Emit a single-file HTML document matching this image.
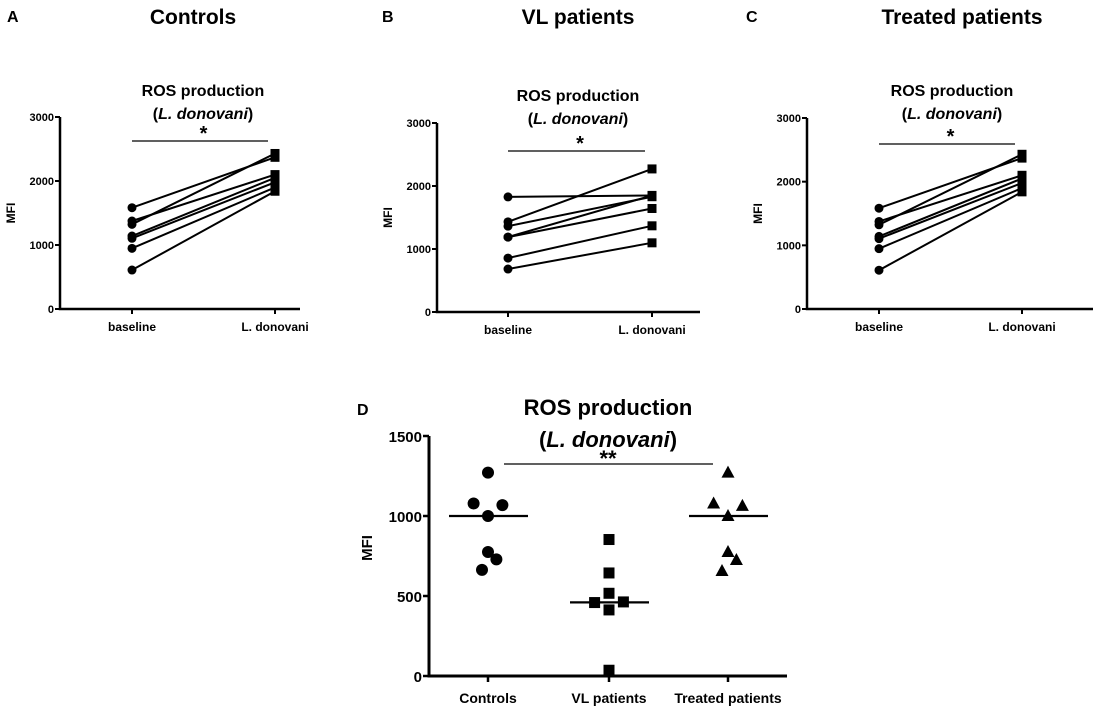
<!DOCTYPE html>
<html><head><meta charset="utf-8"><style>
html,body{margin:0;padding:0;background:#fff;}
svg{display:block;font-family:"Liberation Sans",Arial,sans-serif;font-weight:bold;}
</style></head><body>
<svg id="fig" width="1094" height="713" viewBox="0 0 1094 713" xmlns="http://www.w3.org/2000/svg"></svg>
<script>
// Panel A (Controls)
const aBaseline = [1583, 1375, 1323, 1140, 1105, 948, 609];
const aDonovani = [2370, 2100, 2430, 2050, 1980, 1900, 1840];
// Panel B (VL patients)
const bBaseline = [1827, 1431, 1363, 1189, 1189, 856, 682];
const bDonovani = [1850, 2271, 1830, 1850, 1643, 1368, 1098];
// Panel C (Treated patients)
const cBaseline = [1583, 1375, 1323, 1140, 1105, 948, 609];
const cDonovani = [2370, 2100, 2430, 2050, 1980, 1900, 1840];
const pairTicks = [0, 1000, 2000, 3000];
const pairCats = ["baseline", "L. donovani"];
// Panel D
const dCats = ["Controls", "VL patients", "Treated patients"];
const dControls = [1271, 1078, 1068, 1000, 775, 729, 663];
const dVL = [853, 644, 517, 459, 463, 413, 36];
const dTreated = [1271, 1078, 1063, 1000, 775, 725, 656];
const dJitter = [0, -0.12, 0.12, 0, 0, 0.07, -0.05];
const dJitterVL = [0, 0, 0, -0.12, 0.12, 0, 0];
const dMedians = [1000, 460, 1000];
const dTicks = [0, 500, 1000, 1500];

const svg = document.getElementById('fig');
const NS = 'http://www.w3.org/2000/svg';
function mk(tag, attrs, parent, txt){
  const e = document.createElementNS(NS, tag);
  for (const k in attrs) e.setAttribute(k, attrs[k]);
  if (txt !== undefined) e.textContent = txt;
  (parent || svg).appendChild(e);
  return e;
}

function pairPanel(o){
  const g = mk('g', {});
  
  
  const y = v => o.y0 - (v / 3000) * (o.y0 - o.y3);
  const xs = [o.xb, o.xd];
  let t = mk('text', {x: o.lx, y: 22, 'font-size': 16}, g, o.letter);
   
  t = mk('text', {x: o.tx, y: 24, 'font-size': 21, 'text-anchor': 'middle'}, g, o.title);
   
  t = mk('text', {x: o.sx, y: o.ty, 'font-size': 16, 'text-anchor': 'middle'}, g, 'ROS production');
   
  t = mk('text', {x: o.sx, y: o.ty + 23, 'font-size': 16, 'text-anchor': 'middle'}, g);
   
  mk('tspan', {}, t, '(');
  mk('tspan', {'font-style': 'italic'}, t, 'L. donovani');
  mk('tspan', {}, t, ')');
  let l = mk('line', {x1: o.xb, x2: o.xd - 7, y1: o.sigY, y2: o.sigY, stroke: '#000', 'stroke-width': 1.3}, g);
   
  t = mk('text', {x: (o.xb + o.xd) / 2, y: o.sigY - 1, 'font-size': 20, 'text-anchor': 'middle'}, g, '*');
   
  l = mk('path', {d: `M${o.ax} ${o.y3} V${o.y0} H${o.axEnd}`, fill: 'none', stroke: '#000', 'stroke-width': 2.5}, g);
   
  pairTicks.forEach(v => {
    mk('line', {x1: o.ax - 5, x2: o.ax, y1: y(v), y2: y(v), stroke: '#000', 'stroke-width': 2}, g);
    const tt = mk('text', {x: o.ax - 6, y: y(v) + 4, 'font-size': 11, 'text-anchor': 'end'}, g, String(v));
     
  });
  pairCats.forEach((c, i) => {
    mk('line', {x1: xs[i], x2: xs[i], y1: o.y0, y2: o.y0 + 5, stroke: '#000', 'stroke-width': 2}, g);
    const tt = mk('text', {x: xs[i], y: o.y0 + 22, 'font-size': 12, 'text-anchor': 'middle'}, g, c);
     
  });
  t = mk('text', {x: 0, y: 0, 'font-size': 12, 'text-anchor': 'middle', transform: `translate(${o.ax - 45},${(o.y0 + o.y3) / 2}) rotate(-90)`}, g, 'MFI');
   
  o.base.forEach((b, i) => {
    const ln = mk('line', {x1: o.xb, y1: y(b), x2: o.xd, y2: y(o.don[i]), stroke: '#000', 'stroke-width': 2}, g);
     
  });
  o.base.forEach((b, i) => {
    const c = mk('circle', {cx: o.xb, cy: y(b), r: 4.5, fill: '#000'}, g);
     
    const r = mk('rect', {x: o.xd - 4.5, y: y(o.don[i]) - 4.5, width: 9, height: 9, fill: '#000'}, g);
     
  });
}

pairPanel({name: 'panel-a', letter: 'A', title: 'Controls', lx: 7, tx: 193, sx: 203, ty: 96, sigY: 141,
  ax: 60, axEnd: 300, y0: 309, y3: 117, xb: 132, xd: 275, base: aBaseline, don: aDonovani});
pairPanel({name: 'panel-b', letter: 'B', title: 'VL patients', lx: 382, tx: 578, sx: 578, ty: 101, sigY: 151,
  ax: 437, axEnd: 700, y0: 312, y3: 123, xb: 508, xd: 652, base: bBaseline, don: bDonovani});
pairPanel({name: 'panel-c', letter: 'C', title: 'Treated patients', lx: 746, tx: 962, sx: 952, ty: 96, sigY: 144,
  ax: 807, axEnd: 1093, y0: 309, y3: 118, xb: 879, xd: 1022, base: cBaseline, don: cDonovani});

(function(){
  const g = mk('g', {});
   
  const y0 = 676, y15 = 436, ax = 429, axEnd = 787;
  const cx = [488, 609, 728];
  const y = v => y0 - (v / 1500) * (y0 - y15);
  const x = (i, j) => cx[i] + j * 120;
  let t = mk('text', {x: 357, y: 415, 'font-size': 16}, g, 'D');
   
  t = mk('text', {x: 608, y: 415, 'font-size': 22, 'text-anchor': 'middle'}, g, 'ROS production');
   
  t = mk('text', {x: 608, y: 447, 'font-size': 22, 'text-anchor': 'middle'}, g);
   
  mk('tspan', {}, t, '('); mk('tspan', {'font-style': 'italic'}, t, 'L. donovani'); mk('tspan', {}, t, ')');
  let l = mk('line', {x1: 504, x2: 713, y1: 464, y2: 464, stroke: '#000', 'stroke-width': 1.3}, g);
   
  t = mk('text', {x: 608, y: 466, 'font-size': 22, 'text-anchor': 'middle'}, g, '**');
   
  l = mk('path', {d: `M${ax} ${y15} V${y0} H${axEnd}`, fill: 'none', stroke: '#000', 'stroke-width': 3}, g);
   
  dTicks.forEach(v => {
    mk('line', {x1: ax - 6, x2: ax, y1: y(v), y2: y(v), stroke: '#000', 'stroke-width': 2.5}, g);
    const tt = mk('text', {x: ax - 7, y: y(v) + 6, 'font-size': 15, 'text-anchor': 'end'}, g, String(v));
     
  });
  dCats.forEach((c, i) => {
    mk('line', {x1: cx[i], x2: cx[i], y1: y0, y2: y0 + 6, stroke: '#000', 'stroke-width': 2.5}, g);
    const tt = mk('text', {x: cx[i], y: y0 + 27, 'font-size': 14, 'text-anchor': 'middle'}, g, c);
     
  });
  t = mk('text', {x: 0, y: 0, 'font-size': 15, 'text-anchor': 'middle', transform: `translate(${ax - 57},${(y0 + y15) / 2 - 8}) rotate(-90)`}, g, 'MFI');
   
  dMedians.forEach((m, i) => {
    const ml = mk('line', {x1: cx[i] - 39, x2: cx[i] + 40, y1: y(m), y2: y(m), stroke: '#000', 'stroke-width': 2.2}, g);
     
  });
  dControls.forEach((v, j) => {
    const c = mk('circle', {cx: x(0, dJitter[j]), cy: y(v), r: 6, fill: '#000'}, g);
     
  });
  dVL.forEach((v, j) => {
    const r = mk('rect', {x: x(1, dJitterVL[j]) - 5.5, y: y(v) - 5.5, width: 11, height: 11, fill: '#000'}, g);
     
  });
  dTreated.forEach((v, j) => {
    const px = x(2, dJitter[j]), py = y(v);
    const p = mk('polygon', {points: `${px},${py - 7} ${px - 6.5},${py + 5} ${px + 6.5},${py + 5}`, fill: '#000'}, g);
     
  });
})();
</script>
</body></html>
